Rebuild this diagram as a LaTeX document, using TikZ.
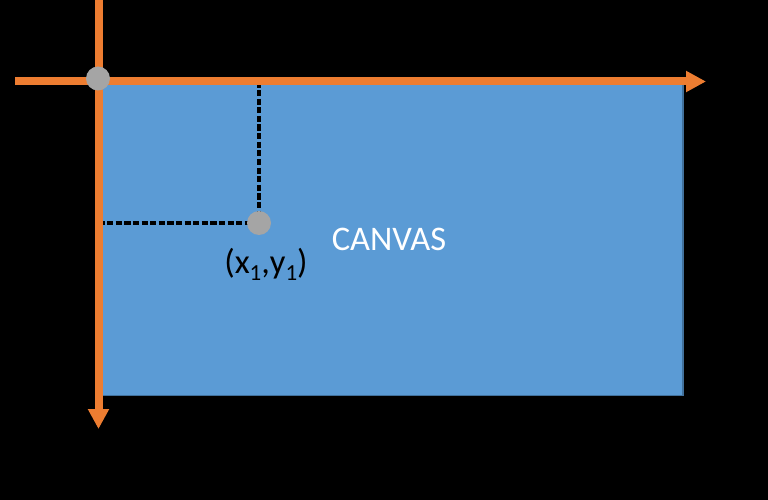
\documentclass[tikz,border=0pt]{standalone}
\usepackage{fontspec}
\setmainfont{Carlito}
\usetikzlibrary{arrows.meta}
\definecolor{canvasblue}{HTML}{5B9BD5}
\definecolor{canvasedge}{HTML}{41719C}
\definecolor{axisorange}{HTML}{ED7D31}
\definecolor{dotgray}{HTML}{A5A5A5}
\tikzset{
  axis/.style={draw=axisorange, line width=8pt, -{Triangle[length=20pt,width=20pt]}},
  dotnode/.style={circle, fill=dotgray, minimum size=24pt, inner sep=0pt},
  dashline/.style={draw=black, line width=3.2pt, dash pattern=on 6.2pt off 2.4pt},
  lbl/.style={font=\fontsize{34.5}{34.5}\selectfont, inner sep=0pt, anchor=base}
}
\newcommand{\subone}{\raisebox{-0.22em}{\fontsize{23}{23}\selectfont 1}}
\begin{document}
\begin{tikzpicture}[x=1pt,y=-1pt]
  \fill[black] (0,0) rectangle (768,500);
  \useasboundingbox (0,0) rectangle (768,500);
  % canvas
  \node[draw=canvasedge, line width=1.5pt, fill=canvasblue, anchor=north west,
        minimum width=584pt, minimum height=313pt, inner sep=0pt] (canvas) at (98,81.5) {};
  % dashed projections
  \coordinate (ptop) at (259,81.5);
  \coordinate (pleft) at (98.5,223);
  \coordinate (pc) at (259,223);
  \draw[dashline] (ptop) -- (pc);
  \draw[dashline] (pleft) -- (pc);
  \node[dotnode] (p) at (pc) {};
  % axes
  \coordinate (hstart) at (15,81.5);
  \coordinate (hend) at (706,81.5);
  \coordinate (vstart) at (98.5,0);
  \coordinate (vend) at (98.5,429);
  \draw[axis] (hstart) -- (hend);
  \draw[axis] (vstart) -- (vend);
  \node[dotnode] (o) at (98,78.5) {};
  % labels
  \node[lbl, text=white] (canvaslbl) at (389,250) {CANVAS};
  \node[lbl, text=black] (plbl) at (266,273) {(x\subone,y\subone)};
\end{tikzpicture}
\end{document}
